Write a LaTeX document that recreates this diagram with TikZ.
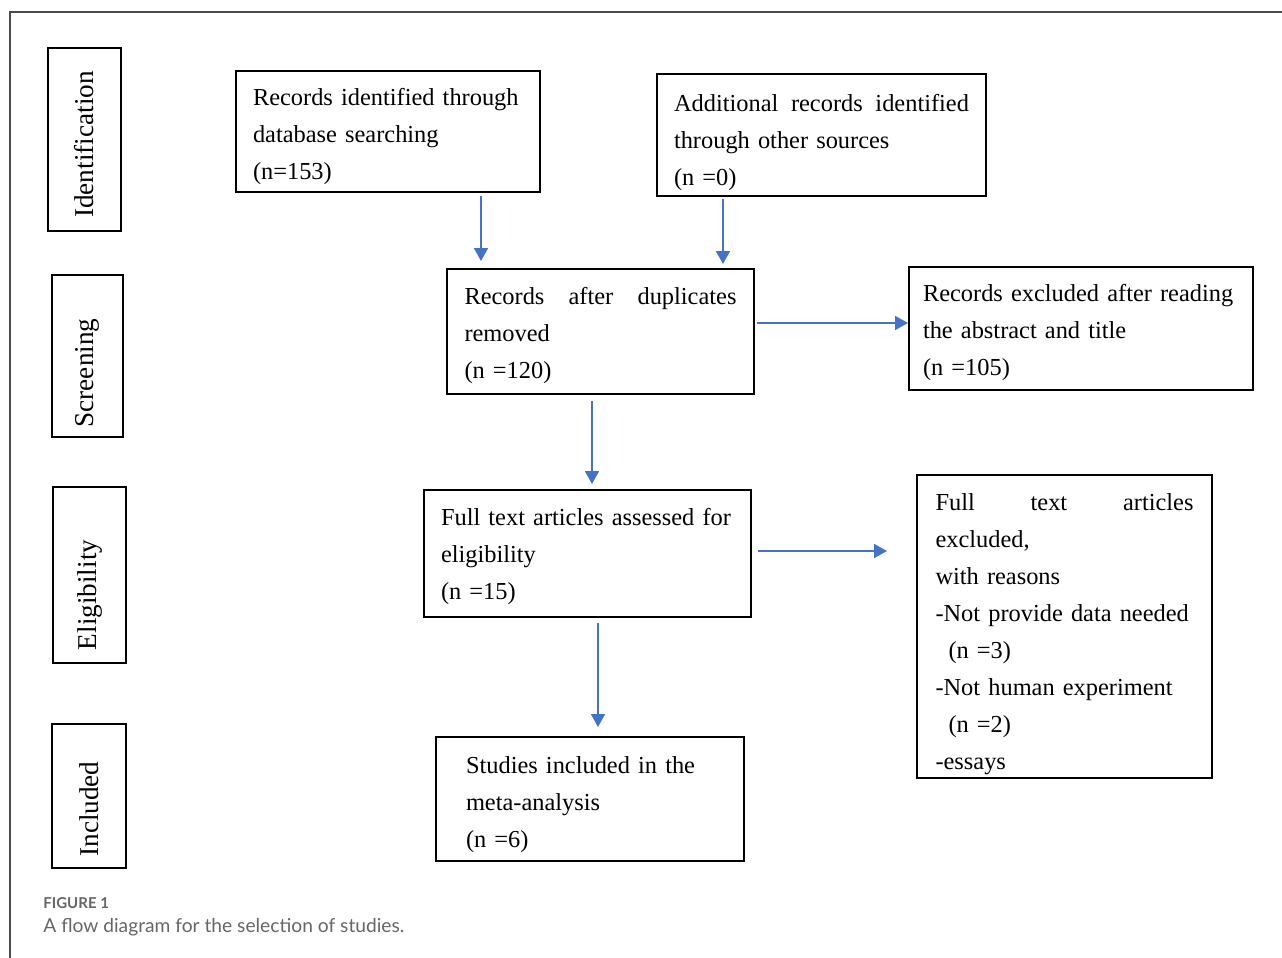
\documentclass[tikz,border=0pt]{standalone}
\usepackage{fontspec}
\setmainfont{Liberation Serif}
\newfontfamily\capfont{Lato}
\usetikzlibrary{arrows.meta,positioning,calc}

\definecolor{arrowblue}{HTML}{4472C4}
\definecolor{capgray}{HTML}{666666}
\newcommand\topstrut[1]{\rule{0pt}{#1}}

\begin{document}
\begin{tikzpicture}[
  x=0.5pt, y=-0.5pt,
  box/.style={rectangle, draw, line width=1pt, inner xsep=8.5pt, inner ysep=0pt, align=left,
    font=\fontsize{12.2}{18.5}\selectfont},
  stage/.style={rectangle, draw, line width=1pt, rotate=90, inner sep=0pt,
    font=\fontsize{13.6}{16}\selectfont},
  arrow/.style={-{Triangle[width=7pt,length=6.5pt]}, line width=0.9pt, draw=arrowblue, fill=arrowblue},
  caption/.style={anchor=west, inner sep=0pt, text=capgray}
]
\useasboundingbox (0,0) rectangle (1282,958);

% frame
\draw[line width=0.7pt, draw=black!70] (1282,12) -- (10,12) -- (10,958);

% stages
\node[stage, minimum width=91.5pt, minimum height=36.5pt] (ident) at (84.5,139.5) {Identification\hspace*{5pt}};
\node[stage, minimum width=81pt, minimum height=35.5pt] (screen) at (87.5,356) {Screening\hspace*{17pt}};
\node[stage, minimum width=88pt, minimum height=36.5pt] (elig) at (89.5,575) {Eligibility\hspace*{20pt}};
\node[stage, minimum width=72pt, minimum height=37pt] (inclst) at (89,796) {Included\hspace*{13pt}};

% identification
\node[box, minimum width=152pt, minimum height=60.5pt, text width=135pt] (db) at (388,131.5)
  {\topstrut{13.5pt}Records identified through\\database searching\\(n=153)};
\node[box, minimum width=164.5pt, minimum height=61pt, text width=147.5pt] (other) at (821.5,135)
  {\topstrut{16pt}Additional\hfill records\hfill identified\\through other sources\\(n =0)};

% screening
\node[box, minimum width=153.5pt, minimum height=62.5pt, text width=136pt] (dup) at (600.5,331.5)
  {\topstrut{12.5pt}Records\hfill after\hfill duplicates\\removed\\(n =120)};
\node[box, inner xsep=7pt, minimum width=172pt, minimum height=61.5pt, text width=158pt] (excl1) at (1081,328.5)
  {\topstrut{12.5pt}Records excluded after reading\\the abstract and title\\(n =105)};

% eligibility
\node[box, minimum width=163.5pt, minimum height=63.5pt, text width=146.5pt] (full) at (587.5,553.5)
  {\topstrut{12pt}Full text articles assessed for\\eligibility\\(n =15)};
\node[box, minimum width=147.5pt, minimum height=151.5pt, text width=129pt] (excl2) at (1064.5,626.5)
  {\topstrut{16pt}Full\hfill text\hfill articles\\excluded,\\with reasons\\-Not provide data needed\\
   \hspace*{6.5pt}(n =3)\\-Not human experiment\\\hspace*{6.5pt}(n =2)\\-essays};

% included
\node[box, inner xsep=15pt, minimum width=154pt, minimum height=62pt, text width=124pt] (incl) at (590,799)
  {\topstrut{14pt}Studies included in the\\meta-analysis\\(n =6)};

% arrows
\draw[arrow, shorten <=1.5pt, shorten >=3.5pt] ([xshift=46.5pt]db.south) -- ([xshift=46.5pt]db.south |- dup.north);
\draw[arrow, shorten <=1pt, shorten >=2pt] ([xshift=-49.25pt]other.south) -- ([xshift=-49.25pt]other.south |- dup.north);
\draw[arrow, shorten <=1pt] ([yshift=4.25pt]dup.east) -- ([yshift=4.25pt]dup.east -| excl1.west);
\draw[arrow, shorten <=3pt, shorten >=2.5pt] ([xshift=-4.25pt]dup.south) -- ([xshift=-4.25pt]dup.south |- full.north);
\draw[arrow, shorten <=3pt, shorten >=14.5pt] ([yshift=1.25pt]full.east) -- ([yshift=1.25pt]full.east -| excl2.west);
\draw[arrow, shorten <=2.5pt, shorten >=4.5pt] ([xshift=5.25pt]full.south) -- ([xshift=5.25pt]full.south |- incl.north);

% caption
\node[caption, font=\capfont\bfseries\fontsize{7.5}{9}\selectfont] (figno) at (43,903) {FIGURE 1};
\node[caption, font=\capfont\fontsize{9.6}{11}\selectfont] (captext) at (43,927) {A flow diagram for the selection of studies.};

\end{tikzpicture}
\end{document}
